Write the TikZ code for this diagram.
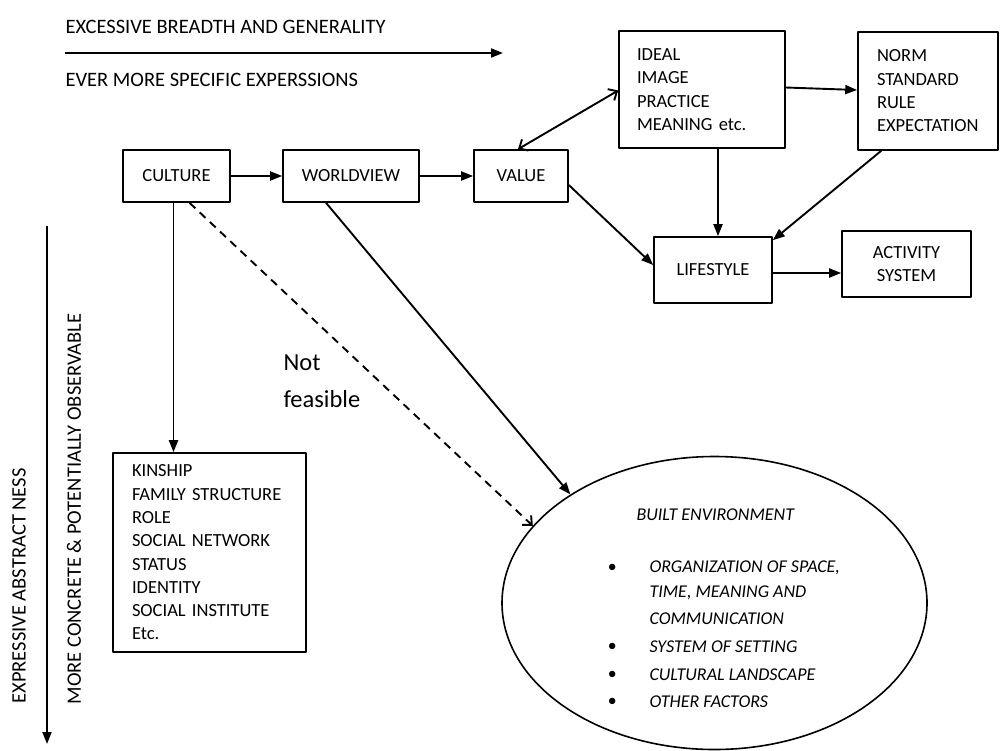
\documentclass[tikz,border=0pt]{standalone}
\usepackage{fontspec}
\setmainfont{Carlito}
\usetikzlibrary{arrows.meta,shapes.geometric}
\tikzset{
  box/.style={draw, line width=1.6pt, inner sep=0pt},
  listbox/.style={box, align=left, inner xsep=19pt},
  arr/.style={line width=1.9pt, -{Triangle[length=12pt,width=9pt]}},
  barb/.style={line width=1.9pt, -{Straight Barb[length=7pt,width=13pt]}},
  dirtext/.style={font=\fontsize{20.5}{24}\selectfont},
  item/.style={anchor=west, font=\fontsize{18}{22}\selectfont\itshape},
}
\begin{document}
\begin{tikzpicture}[x=1pt, y=-1pt, font=\fontsize{18.5}{23.3}\selectfont, line join=round]
\useasboundingbox (0,0) rectangle (1000,750);
% directions
\node[dirtext, anchor=west] (broad) at (62,27) {EXCESSIVE BREADTH AND GENERALITY};
\node[dirtext, anchor=west] (spec) at (62,80) {EVER MORE SPECIFIC EXPERSSIONS};
\coordinate (h0) at (65,53);
\coordinate (h1) at (503,53);
\draw[arr] (h0) -- (h1);
\coordinate (v0) at (47,226);
\coordinate (v1) at (47,744);
\draw[arr] (v0) -- (v1);
\node[dirtext, rotate=90, anchor=west] (abstr) at (19,707) {EXPRESSIVE ABSTRACT NESS};
\node[dirtext, rotate=90, anchor=west] (concr) at (74,708) {MORE CONCRETE \& POTENTIALLY OBSERVABLE};
% boxes
\node[box, minimum width=107pt, minimum height=52pt] (culture) at (176.5,176) {CULTURE};
\node[box, minimum width=136pt, minimum height=52pt] (world) at (351,176) {WORLDVIEW};
\node[box, minimum width=94pt, minimum height=52pt] (value) at (521,176) {VALUE};
\node[listbox, inner xsep=18pt, text width=130pt, minimum height=117pt] (ideal) at (702,89.5)
  {IDEAL\\IMAGE\\PRACTICE\\MEANING etc.};
\node[listbox, text width=102pt, minimum height=118pt] (norm) at (928,91)
  {NORM\\STANDARD\\RULE\\EXPECTATION};
\node[box, minimum width=118pt, minimum height=66pt] (life) at (713,270) {LIFESTYLE};
\node[box, align=center, minimum width=129pt, minimum height=66pt] (act) at (906.5,264) {ACTIVITY\\SYSTEM};
\node[listbox, text width=155pt, minimum height=199pt] (kin) at (209.5,552.5)
  {KINSHIP\\FAMILY STRUCTURE\\ROLE\\SOCIAL NETWORK\\STATUS\\IDENTITY\\SOCIAL INSTITUTE\\Etc.};
\node[ellipse, draw, line width=1.6pt, inner sep=0pt, minimum width=425pt, minimum height=293pt] (built) at (714.5,603) {};
% ellipse text
\node[item] (be) at (633,515) {BUILT ENVIRONMENT};
\node[item] (b1) at (604,568) {\textbullet};
\node[item] (b2) at (604,647) {\textbullet};
\node[item] (b3) at (604,675) {\textbullet};
\node[item] (b4) at (604,702) {\textbullet};
\node[item] (i1) at (646,568) {ORGANIZATION OF SPACE,};
\node[item] (i1b) at (646,593) {TIME, MEANING AND};
\node[item] (i1c) at (646,619) {COMMUNICATION};
\node[item] (i2) at (646,647) {SYSTEM OF SETTING};
\node[item] (i3) at (646,675) {CULTURAL LANDSCAPE};
\node[item] (i4) at (646,702) {OTHER FACTORS};
\node[anchor=west, align=left, font=\fontsize{24.5}{37}\selectfont] (nf) at (280,381) {Not\\feasible};
% connectors
\draw[arr] (culture) -- (world);
\draw[arr] (world) -- (value);
\draw[line width=1.9pt, {Straight Barb[length=7pt,width=13pt]}-{Straight Barb[length=7pt,width=13pt]}] ([xshift=-3pt]value.north) -- ([yshift=-1pt]ideal.west);
\draw[arr] ([yshift=2pt]ideal.east) -- ([yshift=1pt]norm.west);
\draw[arr] ([yshift=-9pt]value.east) -- ([yshift=5pt]life.west);
\draw[arr] ([xshift=5pt]life.north |- ideal.south) -- ([xshift=5pt]life.north);
\draw[arr] ([xshift=24pt]norm.south west) -- ([yshift=-4pt]life.north east);
\draw[arr] ([yshift=-3pt]life.east) -- ([yshift=-3pt]life.east -| act.west);
\draw[arr] ([xshift=-3pt]culture.south) -- ([xshift=-3pt]culture.south |- kin.north);
\draw[arr] ([xshift=-25pt]world.south) -- (built.143);
\draw[barb, dashed, dash pattern=on 8pt off 6pt] ([xshift=13pt]culture.south) -- (built.157);
\end{tikzpicture}
\end{document}
